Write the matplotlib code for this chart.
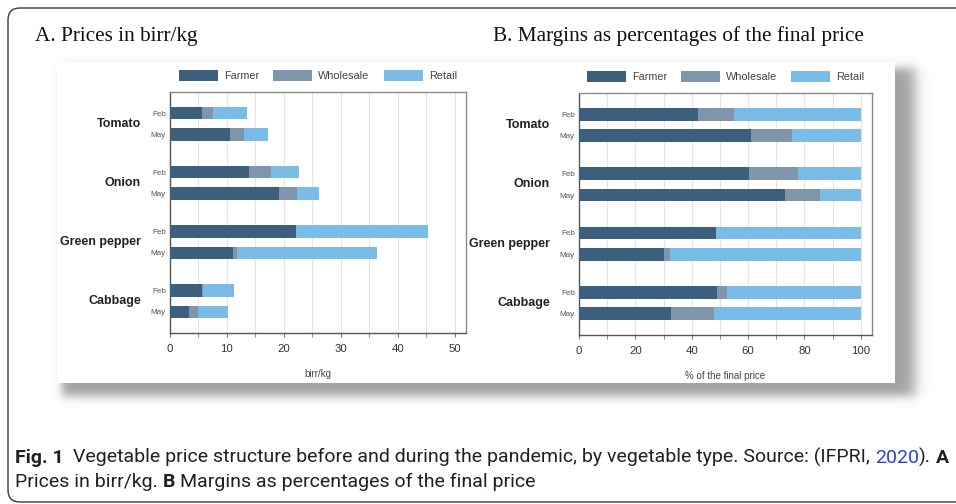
import numpy as np
import matplotlib
matplotlib.use("Agg")
import matplotlib.pyplot as plt
from matplotlib.patches import Rectangle, FancyBboxPatch
from matplotlib.ticker import MultipleLocator

# ---------------- data ----------------
vegetables = ["Tomato", "Onion", "Green pepper", "Cabbage"]
months = ["Feb", "May"]
series = ["Farmer", "Wholesale", "Retail"]
colors = ["#3c5f7e", "#7f95ab", "#79bce8"]

# rows: Tomato Feb, Tomato May, Onion Feb, Onion May, Green pepper Feb, Green pepper May, Cabbage Feb, Cabbage May
price_farmer = [5.7, 10.6, 13.8, 19.1, 22.1, 11.1, 5.6, 3.4]
price_wholesale = [1.8, 2.4, 3.9, 3.2, 0.0, 0.7, 0.2, 1.5]
price_retail = [6.1, 4.2, 5.0, 3.8, 23.3, 24.5, 5.4, 5.3]

share_farmer = [42.2, 61.2, 60.2, 73.2, 48.6, 30.1, 49.1, 32.7]
share_wholesale = [12.9, 14.3, 17.7, 12.4, 0.0, 2.1, 3.6, 15.1]
share_retail = [44.9, 24.5, 22.1, 14.4, 51.4, 67.8, 47.3, 52.2]

title_a = "A. Prices in birr/kg"
title_b = "B. Margins as percentages of the final price"
xlabel_a = "birr/kg"
xlabel_b = "% of the final price"

W, H = 956, 504
fig = plt.figure(figsize=(W / 100, H / 100), dpi=100)
fig.patch.set_facecolor("white")

# ---------------- background decoration ----------------
bg = fig.add_axes([0, 0, 1, 1], zorder=-5)
bg.set_xlim(0, W)
bg.set_ylim(H, 0)
bg.axis("off")

X = np.arange(W) + 0.5
Y = np.arange(H) + 0.5


def band(v, a, b, sa, sb):
    return 0.5 * (np.tanh((v - a) / sa) - np.tanh((v - b) / sb))


alpha = 0.46 * band(X, 62, 915, 5, 8)[None, :] * band(Y, 68, 396, 6, 6)[:, None]
img = np.zeros((H, W, 4))
img[..., :3] = 0.2
img[..., 3] = np.clip(alpha, 0, 1)
bg.imshow(img, extent=(0, W, H, 0), interpolation="bilinear", zorder=0)
bg.add_patch(Rectangle((57, 62), 895 - 57, 383 - 62, facecolor="white",
                       edgecolor="none", zorder=1))
bg.add_patch(FancyBboxPatch((8, 8), 1100, 494, boxstyle="round,pad=0,rounding_size=12",
                            facecolor="none", edgecolor="#3a3a3a", lw=1.0, zorder=2))

# ---------------- panels ----------------
group_gap = 2.78
ypos = []
for g in range(len(vegetables)):
    for m in range(len(months)):
        ypos.append(g * group_gap + m)
ypos = np.array(ypos)
ylabels = months * len(vegetables)


def panel(rect, vals, xmax, major, minor, xlabel):
    ax = fig.add_axes(rect)
    ax.set_facecolor("white")
    left = np.zeros(len(ypos))
    for v, c, name in zip(vals, colors, series):
        v = np.array(v)
        ax.barh(ypos, v, left=left, height=0.58, color=c, edgecolor="none",
                label=name, zorder=3)
        left = left + v
    ax.set_xlim(0, xmax)
    ax.set_ylim(ypos[-1] + 1.0, ypos[0] - 1.0)
    ax.xaxis.set_major_locator(MultipleLocator(major))
    ax.xaxis.set_minor_locator(MultipleLocator(minor))
    ax.grid(True, which="both", axis="x", color="#e3e3e3", lw=0.8, zorder=0)
    ax.set_axisbelow(True)
    ax.set_yticks(ypos)
    ax.set_yticklabels(ylabels, fontsize=5.8, color="#555555",
                       family="Liberation Sans")
    ax.tick_params(axis="y", length=0, pad=3)
    ax.tick_params(axis="x", which="both", length=3, color="#777777",
                   labelsize=8.2, labelcolor="#333333", pad=5)
    for lab in ax.get_xticklabels():
        lab.set_family("Liberation Sans")
    for s in ax.spines.values():
        s.set_color("#8a8a8a")
        s.set_linewidth(1.0)
    ax.spines["left"].set_color("#555555")
    ax.spines["bottom"].set_color("#555555")
    ax.set_xlabel(xlabel, fontsize=7, color="#444444", labelpad=11,
                  family="Liberation Sans")
    for g, veg in enumerate(vegetables):
        yc = (ypos[2 * g] + ypos[2 * g + 1]) / 2
        ax.annotate(veg, xy=(0, yc), xycoords=("axes fraction", "data"),
                    xytext=(-29, 0), textcoords="offset pixels",
                    ha="right", va="center", fontsize=9, fontweight="bold",
                    color="#222222", family="Liberation Sans")
    ax.legend(loc="center", bbox_to_anchor=(0.5, 1.068), ncol=3, frameon=False,
              handlelength=3.6, handleheight=1.2, handletextpad=0.55,
              columnspacing=1.3, borderaxespad=0,
              prop={"family": "Liberation Sans", "size": 7.8},
              labelcolor="#444444")
    return ax


ax_a = panel([170 / W, 1 - 333 / H, (466 - 170) / W, (333 - 92) / H],
             [price_farmer, price_wholesale, price_retail], 52, 10, 5, xlabel_a)
ax_b = panel([579 / W, 1 - 335 / H, (872 - 579) / W, (335 - 93) / H],
             [share_farmer, share_wholesale, share_retail], 104, 20, 10, xlabel_b)

# ---------------- titles ----------------
fig.text(35 / W, 1 - 41 / H, title_a, fontsize=15.3, family="Liberation Serif",
         color="#111111", ha="left", va="baseline")
fig.text(493 / W, 1 - 41 / H, title_b, fontsize=15.3, family="Liberation Serif",
         color="#111111", ha="left", va="baseline")

# ---------------- caption ----------------
cap_font = "Roboto"
cap_black = "#231f20"
cap_blue = "#2e3fd6"
line1 = [("Fig. 1", "bold", cap_black, 0),
         ("Vegetable price structure before and during the pandemic, by vegetable type. Source: (IFPRI,", "normal", cap_black, 2),
         ("2020", "normal", cap_blue, 1),
         (").", "normal", cap_black, 0),
         ("A", "bold", cap_black, 1)]
line2 = [("Prices in birr/kg.", "normal", cap_black, 0),
         ("B", "bold", cap_black, 1),
         ("Margins as percentages of the final price", "normal", cap_black, 1)]

renderer = fig.canvas.get_renderer()


def draw_line(pieces, x0, yb, size):
    arts = []
    x = x0
    sp = fig.text(0, 0, "a a", fontsize=size, family=cap_font)
    sp2 = fig.text(0, 0, "aa", fontsize=size, family=cap_font)
    space = sp.get_window_extent(renderer).width - sp2.get_window_extent(renderer).width
    sp.remove()
    sp2.remove()
    for s, wt, c, nsp in pieces:
        x += nsp * space
        t = fig.text(x / W, 1 - yb / H, s, fontsize=size, fontweight=wt, color=c,
                     family=cap_font, ha="left", va="baseline")
        arts.append(t)
        x += t.get_window_extent(renderer).width
    return arts, x - x0


size = 10.0
arts, width = draw_line(line1, 15, 463, size)
for a in arts:
    a.remove()
size = size * 930 / width
draw_line(line1, 15, 463, size)
draw_line(line2, 15, 487, size)

fig.savefig("out.png", dpi=100, facecolor="white")
